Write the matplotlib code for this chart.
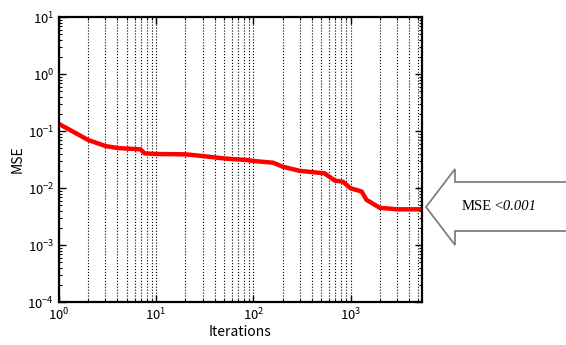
import matplotlib
matplotlib.use('Agg')
import matplotlib.pyplot as plt
from matplotlib.patches import Polygon
from matplotlib.ticker import LogLocator, NullFormatter
import numpy as np

# training curve
iterations = [1, 2, 3, 4, 6.9, 7.6, 10, 20, 30, 50, 85, 100, 160, 200, 300,
              540, 690, 835, 1000, 1300, 1460, 2000, 3000, 5400]
mse = [0.133, 0.0695, 0.0546, 0.0503, 0.0477, 0.0405, 0.0395, 0.039, 0.0364,
       0.033, 0.031, 0.0298, 0.0278, 0.0237, 0.020, 0.0181, 0.0135, 0.0129,
       0.0099, 0.0087, 0.0062, 0.0045, 0.00423, 0.00423]

x_range = [1, 5400]
y_range = [1e-4, 10]
arrow_label = ['MSE', '<0.001']

plt.rcParams['font.family'] = ['Noto Sans CJK JP', 'DejaVu Sans']

fig = plt.figure(figsize=(5.66, 3.45), dpi=100)
ax = fig.add_axes([0.1042, 0.1246, 0.6408, 0.8261])

ax.plot(iterations, mse, color='red', linewidth=3.2, solid_joinstyle='round')
ax.set_xscale('log')
ax.set_yscale('log')
ax.set_xlim(x_range)
ax.set_ylim(y_range)

ax.xaxis.set_minor_locator(LogLocator(base=10, subs=np.arange(2, 10), numticks=20))
ax.yaxis.set_minor_locator(LogLocator(base=10, subs=np.arange(2, 10), numticks=20))
ax.xaxis.set_minor_formatter(NullFormatter())
ax.yaxis.set_minor_formatter(NullFormatter())
ax.xaxis.grid(True, which='both', linestyle=':', color='black', linewidth=0.8)

ax.tick_params(which='both', direction='in', top=True, right=True, labelsize=9.5)
ax.tick_params(which='major', length=5, width=1)
ax.tick_params(which='minor', length=2.5, width=0.8)
for s in ax.spines.values():
    s.set_linewidth(1.6)

ax.set_xlabel('Iterations', fontsize=10, labelpad=1)
ax.set_ylabel('MSE', fontsize=10, labelpad=2)

# big outlined arrow on the right
W, H = 566.0, 345.0
pts = [(426, 207), (455, 169), (455, 182), (580, 182), (580, 231), (455, 231), (455, 245)]
pts = [(px / W, 1 - py / H) for px, py in pts]
fig.patches.append(Polygon(pts, closed=True, transform=fig.transFigure,
                           facecolor='white', edgecolor='#808080', linewidth=1.3))
t1 = fig.text(462 / W, 1 - 207 / H, arrow_label[0], family='Liberation Serif',
              fontsize=10.5, va='center', ha='left')
fig.canvas.draw()
bb = t1.get_window_extent(fig.canvas.get_renderer())
fig.text((bb.x1 + 1) / W, 1 - 207 / H, arrow_label[1], family='Liberation Serif',
         style='italic', fontsize=10.5, va='center', ha='left')

plt.savefig('out.png', dpi=100)
